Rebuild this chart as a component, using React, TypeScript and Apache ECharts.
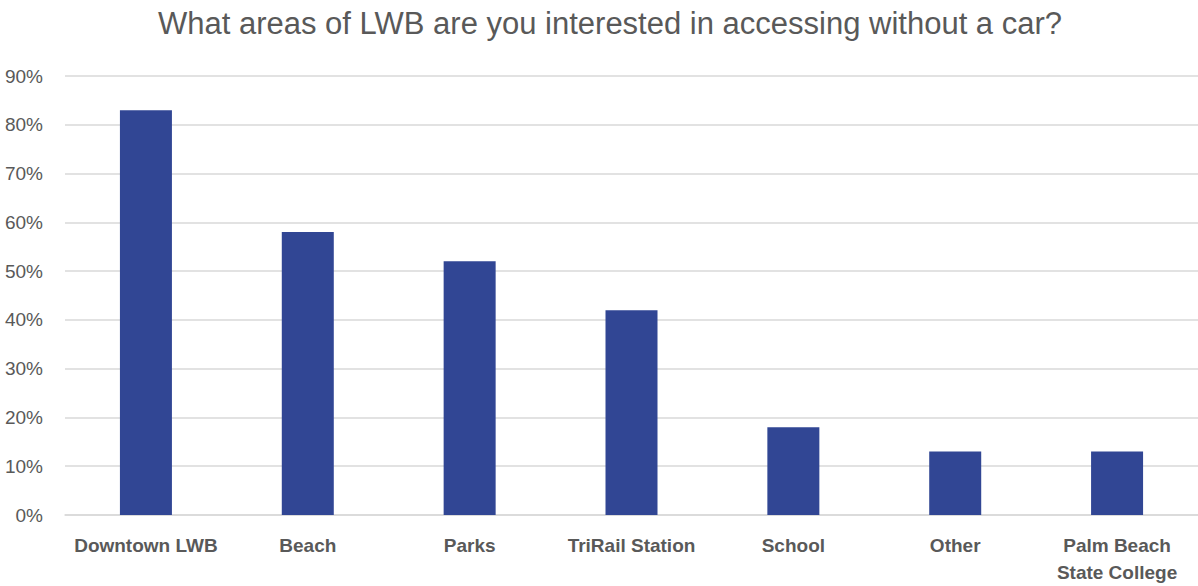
import React, { useEffect, useRef } from "react";
import * as echarts from "echarts";

const categories = ["Downtown LWB", "Beach", "Parks", "TriRail Station", "School", "Other", "Palm Beach\nState College"];
const values = [83, 58, 52, 42, 18, 13, 13];
const titleText = "What areas of LWB are you interested in accessing without a car?";

export default function App() {
  const ref = useRef<HTMLDivElement>(null);
  useEffect(() => {
    const chart = echarts.init(ref.current!, null, { renderer: "svg" });
    const font = "'Liberation Sans', Arial, sans-serif";
    chart.setOption({
      animation: false,
      backgroundColor: "#ffffff",
      title: {
        text: titleText,
        left: 605,
        textAlign: "center",
        top: 3,
        textStyle: { color: "#595959", fontSize: 31, fontWeight: "normal", fontFamily: font },
      },
      grid: { left: 65, width: 1137.5, top: 76, height: 441, containLabel: false },
      xAxis: {
        type: "category",
        data: categories,
        axisLine: { show: true, lineStyle: { color: "#d9d9d9", width: 1.5 } },
        axisTick: { show: false },
        axisLabel: {
          color: "#595959",
          fontSize: 19,
          fontWeight: "bold",
          fontFamily: font,
          margin: 17,
          lineHeight: 27,
          interval: 0,
        },
      },
      yAxis: {
        type: "value",
        min: 0,
        max: 90,
        interval: 10,
        axisLine: { show: false },
        axisTick: { show: false },
        splitLine: { lineStyle: { color: "#d9d9d9", width: 1.5 } },
        axisLabel: {
          formatter: "{value}%",
          color: "#595959",
          fontSize: 19,
          fontFamily: font,
          margin: 22,
        },
      },
      series: [
        {
          type: "bar",
          data: values,
          barWidth: 52,
          itemStyle: { color: "#314694" },
        },
      ],
    });
    return () => chart.dispose();
  }, []);
  return (
    <div
      ref={ref}
      style={{ position: "fixed", left: 0, top: 0, width: 1198, height: 586 }}
    />
  );
}
